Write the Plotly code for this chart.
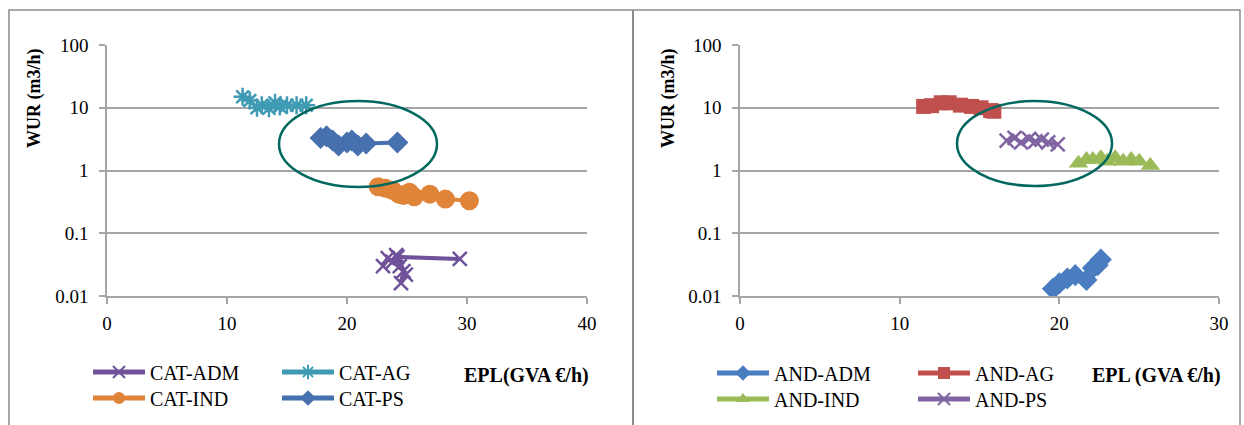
import plotly.graph_objects as go

W, H = 1244, 425

# ---------------- data ----------------
cat_adm_x = [23.0, 23.4, 23.8, 24.1, 24.4, 24.7, 24.5, 24.9, 24.2, 29.4]
cat_adm_y = [0.030, 0.040, 0.035, 0.045, 0.030, 0.025, 0.016, 0.022, 0.042, 0.039]

cat_ag_x = [11.3, 11.9, 12.5, 12.9, 13.5, 14.0, 14.4, 15.0, 15.8, 16.6]
cat_ag_y = [15.0, 13.0, 10.0, 11.0, 9.8, 12.0, 10.5, 11.0, 11.0, 11.0]

cat_ind_x = [22.6, 23.2, 23.8, 24.3, 24.7, 25.2, 25.6, 26.9, 28.2, 30.2]
cat_ind_y = [0.55, 0.52, 0.48, 0.42, 0.40, 0.45, 0.38, 0.42, 0.35, 0.33]

cat_ps_x = [17.8, 18.3, 18.8, 19.3, 20.0, 20.4, 20.9, 21.6, 24.2]
cat_ps_y = [3.3, 3.5, 3.0, 2.5, 2.8, 3.0, 2.5, 2.7, 2.8]

and_adm_x = [19.6, 20.0, 20.5, 21.0, 21.7, 22.1, 22.4, 22.6]
and_adm_y = [0.0130, 0.0160, 0.0190, 0.0215, 0.0180, 0.0280, 0.0310, 0.0380]

and_ag_x = [11.5, 12.0, 12.6, 13.1, 13.8, 14.5, 15.1, 15.7, 15.9]
and_ag_y = [10.5, 10.8, 12.0, 12.0, 11.0, 10.5, 10.0, 9.0, 8.8]

and_ind_x = [21.2, 21.7, 22.1, 22.6, 23.0, 23.5, 24.0, 24.5, 25.0, 25.7]
and_ind_y = [1.30, 1.50, 1.50, 1.60, 1.40, 1.60, 1.40, 1.50, 1.40, 1.20]

and_ps_x = [16.7, 17.2, 17.6, 18.1, 18.5, 18.9, 19.3, 19.9]
and_ps_y = [3.0, 3.3, 2.8, 3.2, 2.9, 3.1, 2.8, 2.6]

y_tickvals = [0.01, 0.1, 1, 10, 100]
y_ticktext = ["0.01", "0.1", "1", "10", "100"]
x_ticks_left = [0, 10, 20, 30, 40]
x_ticks_right = [0, 10, 20, 30]

# ---------------- helpers ----------------
def px(xp):
    return xp / W

def py(yp):
    return 1 - yp / H

FONT = "Liberation Serif, Times New Roman, DejaVu Serif, serif"
GRID = "#A6A6A6"

fig = go.Figure()

series = [
    ("CAT-ADM", cat_adm_x, cat_adm_y, "#70529A", "x-thin-open", 14, "x", "y", "legend"),
    ("CAT-AG", cat_ag_x, cat_ag_y, "#3E9BB3", "asterisk-open", 15, "x", "y", "legend2"),
    ("CAT-IND", cat_ind_x, cat_ind_y, "#E0843A", "circle", 19, "x", "y", "legend3"),
    ("CAT-PS", cat_ps_x, cat_ps_y, "#4770AE", "diamond", 17, "x", "y", "legend4"),
    ("AND-ADM", and_adm_x, and_adm_y, "#4A7DC0", "diamond", 17, "x2", "y2", "legend5"),
    ("AND-AG", and_ag_x, and_ag_y, "#C0504D", "square", 15, "x2", "y2", "legend6"),
    ("AND-IND", and_ind_x, and_ind_y, "#9BBB59", "triangle-up", 17, "x2", "y2", "legend7"),
    ("AND-PS", and_ps_x, and_ps_y, "#8064A2", "x-thin-open", 14, "x2", "y2", "legend8"),
]

for name, xs, ys, col, sym, size, xa, ya, lg in series:
    open_sym = sym.endswith("open")
    fig.add_trace(go.Scatter(
        x=xs, y=ys, name=name, mode="lines+markers", showlegend=True,
        xaxis=xa, yaxis=ya, legend=lg,
        line=dict(color=col, width=4),
        marker=dict(symbol=sym, size=size, color=col,
                    line=dict(color=col, width=2.5 if open_sym else 0)),
    ))

# axes geometry (pixels)
L0, L1 = 107, 587
R0, R1 = 740, 1219
YT, YB = 45, 296

axis_common = dict(
    showgrid=False, zeroline=False, showline=True, linecolor=GRID, linewidth=1.5,
    ticks="outside", ticklen=6, tickcolor=GRID, tickwidth=1.5, automargin=False,
    tickfont=dict(family=FONT, size=19, color="black"), ticklabelstandoff=3,
)
yaxis_common = dict(
    type="log", range=[-2, 2], tickvals=y_tickvals, ticktext=y_ticktext,
    showgrid=True, gridcolor=GRID, gridwidth=1.5, zeroline=False,
    showline=True, linecolor=GRID, linewidth=1.5, automargin=False,
    ticks="outside", ticklen=6, tickcolor=GRID, tickwidth=1.5,
    tickfont=dict(family=FONT, size=19, color="black"), ticklabelstandoff=7,
)

fig.update_layout(
    template="none",
    width=W, height=H, margin=dict(l=0, r=0, t=0, b=0, pad=0, autoexpand=False),
    paper_bgcolor="white", plot_bgcolor="white", showlegend=True,
    font=dict(family=FONT, size=19, color="black"),
    xaxis=dict(domain=[px(L0), px(L1)], range=[0, 40], tickvals=x_ticks_left,
               anchor="y", **axis_common),
    yaxis=dict(domain=[py(YB), py(YT)], anchor="x", **yaxis_common),
    xaxis2=dict(domain=[px(R0), px(R1)], range=[0, 30], tickvals=x_ticks_right,
                anchor="y2", **axis_common),
    yaxis2=dict(domain=[py(YB), py(YT)], anchor="x2", **yaxis_common),
)

# legends: one per entry, arranged as 2x2 grid under each chart
leg_pos = {
    "legend": (88, 372), "legend2": (277, 372),
    "legend3": (88, 398), "legend4": (277, 398),
    "legend5": (712, 373), "legend6": (913, 373),
    "legend7": (712, 399), "legend8": (913, 399),
}
for k, (lx, ly) in leg_pos.items():
    fig.update_layout({k: dict(
        x=px(lx), y=py(ly), xanchor="left", yanchor="middle",
        bgcolor="rgba(0,0,0,0)", borderwidth=0, itemwidth=52, itemsizing="constant",
        font=dict(family=FONT, size=20, color="black"),
        tracegroupgap=0, visible=True,
    )})

# axis titles as annotations
ann = []
for xc in (34, 668):
    ann.append(dict(text="<b>WUR (m3/h)</b>", x=px(xc), y=py(98), xref="paper", yref="paper",
                    textangle=-90, showarrow=False, font=dict(family=FONT, size=18, color="black"),
                    xanchor="center", yanchor="middle"))
ann.append(dict(text="<b>EPL(GVA €/h)</b>", x=px(526), y=py(375), xref="paper", yref="paper",
                showarrow=False, font=dict(family=FONT, size=20, color="black"),
                xanchor="center", yanchor="middle"))
ann.append(dict(text="<b>EPL (GVA €/h)</b>", x=px(1156), y=py(375), xref="paper", yref="paper",
                showarrow=False, font=dict(family=FONT, size=20, color="black"),
                xanchor="center", yanchor="middle"))
fig.update_layout(annotations=ann)

# shapes: ellipses (axis-domain fractions) and panel frames
ELL = "#00685E"
def dom_x(p, a0, a1):
    return (p - a0) / (a1 - a0)

def dom_y(p):
    return (YB - p) / (YB - YT)

shapes = [
    dict(type="circle", xref="x domain", yref="y domain",
         x0=dom_x(279, L0, L1), x1=dom_x(437, L0, L1), y0=dom_y(187), y1=dom_y(101),
         line=dict(color=ELL, width=2.5)),
    dict(type="circle", xref="x2 domain", yref="y2 domain",
         x0=dom_x(957, R0, R1), x1=dom_x(1112, R0, R1), y0=dom_y(186), y1=dom_y(101),
         line=dict(color=ELL, width=2.5)),
    dict(type="rect", xref="paper", yref="paper", x0=px(9), x1=px(1240), y0=py(440), y1=py(10),
         line=dict(color="#8C8C8C", width=1.5), layer="below"),
    dict(type="line", xref="paper", yref="paper", x0=px(633), x1=px(633), y0=py(440), y1=py(10),
         line=dict(color="#8C8C8C", width=2), layer="below"),
]
fig.update_layout(shapes=shapes)

fig.write_html("out.html", config={"displayModeBar": False},
               post_script="document.body.style.margin='0';document.body.style.overflow='hidden';")
